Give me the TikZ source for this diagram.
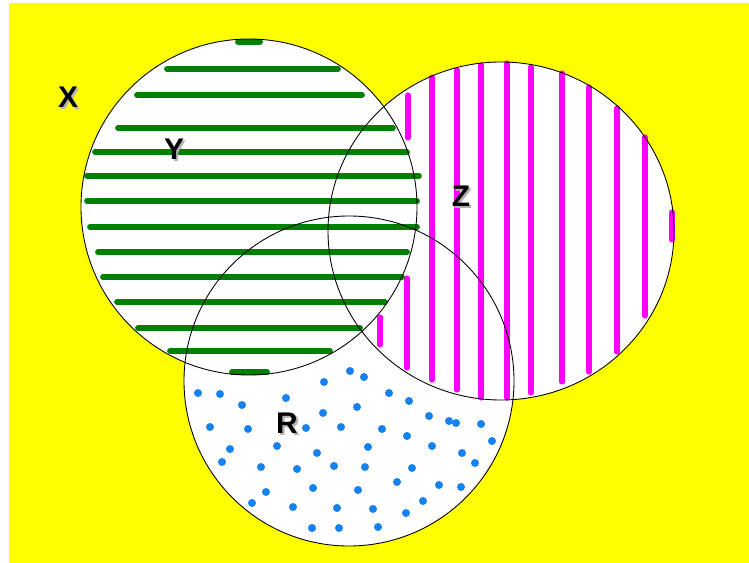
\documentclass[tikz,border=0pt]{standalone}
\usepackage{fontspec}
\setmainfont{Liberation Sans}
\usepackage{xcolor}
\definecolor{bgyellow}{RGB}{255,255,0}
\definecolor{hatchgreen}{RGB}{0,128,0}
\definecolor{hatchpink}{RGB}{255,0,255}
\definecolor{dotblue}{RGB}{20,130,245}
\newcommand{\shadowed}[1]{\rlap{\hspace{1.2pt}\raisebox{-1.2pt}{\color{black!30}#1}}#1}

\begin{document}
\begin{tikzpicture}[
    x=0.02cm, y=-0.02cm,
    outline/.style={draw=black, line width=0.5pt},
    greenhatch/.style={draw=hatchgreen, line width=3.3pt, line cap=round},
    pinkhatch/.style={draw=hatchpink, line width=2.9pt, line cap=round},
    dotspot/.style={fill=dotblue},
    setlabel/.style={inner sep=0pt, font=\fontsize{17}{20}\selectfont\bfseries}
]
% Universe X
\fill[bgyellow] (9,3) rectangle (749,563);
\useasboundingbox (0,0) rectangle (749,563);

% White discs: R, Z, Y
\fill[white] (349,381) circle[radius=165];
\fill[white] (501,231) ellipse[x radius=173, y radius=169];
\fill[white] (249,207) circle[radius=168];

% Dots in R
\foreach \px/\py in {198/393, 220/394, 242/405, 286/398, 324/382, 350/371, 364/377,
    323/413, 357/407, 389/393, 409/401, 210/427, 248/429, 306/428, 341/427, 382/429,
    407/436, 429/416, 449/421, 456/423, 481/424, 492/441, 230/449, 277/446, 317/453,
    368/447, 432/446, 462/453, 475/463, 222/462, 261/467, 297/469, 334/466, 365/467,
    412/468, 266/492, 313/488, 358/490, 397/482, 439/485, 461/487, 252/503, 293/507,
    337/508, 373/509, 423/501, 406/513, 312/528, 339/528, 378/527}
  \fill[dotspot] (\px,\py) circle[radius=4];

% Vertical hatch in Z
\foreach \hx/\ya/\yb in {380/317/345, 407/278/368, 408/95/138, 432/77/380, 457/70/390,
    481/65/398, 507/63/398, 531/67/393, 562/73/382, 589/87/372, 617/108/352,
    645/137/316, 672/212/240}
  \draw[pinkhatch] (\hx,\ya) -- (\hx,\yb);

% Horizontal hatch in Y
\foreach \hy/\xa/\xb in {42/238/260, 69/167/338, 95/137/362, 128/118/393, 152/95/407,
    176/87/419, 201/87/417, 227/90/417, 252/98/407, 277/103/402, 302/117/385,
    328/138/360, 351/170/330, 372/232/267}
  \draw[greenhatch] (\xa,\hy) -- (\xb,\hy);

% Outlines
\draw[outline] (349,381) circle[radius=165];
\draw[outline] (501,231) ellipse[x radius=173, y radius=169];
\draw[outline] (249,207) circle[radius=168];

% Labels
\node[setlabel] (labX) at (68,98) {\shadowed{X}};
\node[setlabel] (labY) at (174,150) {\shadowed{Y}};
\node[setlabel] (labZ) at (461,197) {\shadowed{Z}};
\node[setlabel] (labR) at (287,424) {\shadowed{R}};
\end{tikzpicture}
\end{document}
